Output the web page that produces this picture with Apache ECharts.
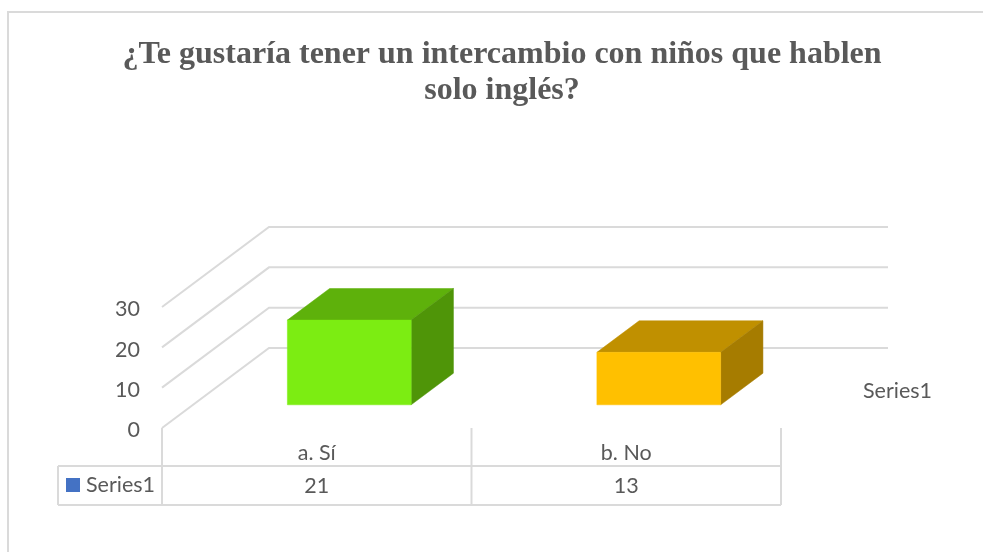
<!DOCTYPE html>
<html>
<head>
<meta charset="utf-8">
<style>html,body{margin:0;padding:0;background:#fff}#c{width:983px;height:552px}</style>
<script src="https://cdn.jsdelivr.net/npm/echarts@6/dist/echarts.min.js"></script>
</head>
<body>
<div id="c"></div>
<script>
const titleText = '¿Te gustaría tener un intercambio con niños que hablen\nsolo inglés?';
const categories = ['a. Sí', 'b. No'];
const seriesName = 'Series1';
const values = [21, 13];
const yTicks = [0, 10, 20, 30];

const FACES = [
  { front: '#7ced12', top: '#5eb10b', side: '#4f9508' },
  { front: '#ffc000', top: '#c09000', side: '#a67c00' }
];
const GRID_COLOR = '#dadada';
const TEXT_COLOR = '#595959';
const LABEL_FONT = 'Lato';
const LABEL_SIZE = 21.5;
const DEPTH_X = 107, DEPTH_Y = -80;
const BAR_NEAR = 0.29, BAR_FAR = 0.685, BAR_WIDTH = 0.4, BAR_SHIFT_X = 1.5;
const TABLE_LEFT = 58, TABLE_TOP = 466, TABLE_BOTTOM = 505;

const lineStyle = { stroke: GRID_COLOR, lineWidth: 2, fill: null };
const pairs = values.map((v, i) => [i, v]);

const chart = echarts.init(document.getElementById('c'), null, { renderer: 'canvas' });
chart.setOption({
  animation: false,
  backgroundColor: '#fff',
  title: {
    text: titleText, left: 497, top: 32, textAlign: 'center',
    textStyle: { fontFamily: 'Liberation Serif', fontWeight: 'bold', fontSize: 32, lineHeight: 36, color: TEXT_COLOR }
  },
  grid: { left: 162, top: 307, width: 619, height: 121 },
  xAxis: {
    type: 'category', data: categories,
    axisLine: { show: false }, axisTick: { show: false }, splitLine: { show: false },
    axisLabel: { margin: 14, fontFamily: LABEL_FONT, fontSize: LABEL_SIZE, color: TEXT_COLOR }
  },
  yAxis: {
    type: 'value', min: 0, max: 30, interval: 10,
    axisLine: { show: false }, axisTick: { show: false }, splitLine: { show: false },
    axisLabel: { margin: 22, verticalAlign: 'top', lineHeight: 5, fontFamily: LABEL_FONT, fontSize: LABEL_SIZE, color: TEXT_COLOR }
  },
  graphic: [
    { type: 'polyline', silent: true, shape: { points: [[8, 552], [8, 12], [983, 12]] }, style: lineStyle },
    { type: 'rect', silent: true, shape: { x: 66, y: 478, width: 14, height: 14 }, style: { fill: '#4472c4' } },
    { type: 'text', silent: true, x: 86, y: 485, style: { text: seriesName, font: LABEL_SIZE + 'px ' + LABEL_FONT, fill: TEXT_COLOR, verticalAlign: 'middle' } },
    { type: 'text', silent: true, x: 863, y: 391, style: { text: seriesName, font: LABEL_SIZE + 'px ' + LABEL_FONT, fill: TEXT_COLOR, verticalAlign: 'middle' } }
  ],
  series: [
    {
      type: 'custom', name: 'gridlines', silent: true, clip: false, z: 1,
      encode: { x: 0, y: 1 },
      data: yTicks.map(t => [0, t]),
      renderItem(params, api) {
        const cs = params.coordSys;
        const y = api.coord([0, api.value(1)])[1];
        return {
          type: 'polyline',
          shape: { points: [[cs.x, y], [cs.x + DEPTH_X, y + DEPTH_Y], [cs.x + cs.width + DEPTH_X, y + DEPTH_Y]] },
          style: lineStyle
        };
      }
    },
    {
      type: 'custom', name: 'table', silent: true, clip: false, z: 1,
      encode: { x: 0, y: 1 },
      data: [[0, 0]],
      renderItem(params, api) {
        const cs = params.coordSys;
        const band = api.size([1, 0])[0];
        const y0 = api.coord([0, 0])[1];
        const line = (x1, y1, x2, y2) => ({ type: 'line', shape: { x1, y1, x2, y2 }, style: lineStyle });
        const children = [
          line(TABLE_LEFT, TABLE_TOP, cs.x + cs.width, TABLE_TOP),
          line(TABLE_LEFT, TABLE_BOTTOM, cs.x + cs.width, TABLE_BOTTOM),
          line(TABLE_LEFT, TABLE_TOP, TABLE_LEFT, TABLE_BOTTOM)
        ];
        for (let i = 0; i <= categories.length; i++) {
          children.push(line(cs.x + band * i, y0, cs.x + band * i, TABLE_BOTTOM));
        }
        return { type: 'group', children };
      }
    },
    {
      type: 'custom', name: seriesName, clip: false, z: 3,
      encode: { x: 0, y: 1 },
      data: pairs,
      renderItem(params, api) {
        const i = api.value(0);
        const top0 = api.coord([i, api.value(1)]);
        const base0 = api.coord([i, 0]);
        const w = api.size([1, 0])[0] * BAR_WIDTH;
        const c = FACES[i];
        const nx = top0[0] - w / 2 + DEPTH_X * BAR_NEAR + BAR_SHIFT_X;
        const ny = DEPTH_Y * BAR_NEAR;
        const fx = DEPTH_X * (BAR_FAR - BAR_NEAR);
        const fy = DEPTH_Y * (BAR_FAR - BAR_NEAR);
        const yT = top0[1] + ny, yB = base0[1] + ny;
        const poly = (points, fill) => ({ type: 'polygon', shape: { points }, style: { fill, stroke: fill, lineWidth: 0.5 } });
        return {
          type: 'group',
          children: [
            poly([[nx, yT], [nx + w, yT], [nx + w + fx, yT + fy], [nx + fx, yT + fy]], c.top),
            poly([[nx + w, yT], [nx + w + fx, yT + fy], [nx + w + fx, yB + fy], [nx + w, yB]], c.side),
            poly([[nx, yT], [nx + w, yT], [nx + w, yB], [nx, yB]], c.front)
          ]
        };
      }
    },
    {
      type: 'custom', name: 'tableValues', silent: true, clip: false, z: 4,
      encode: { x: 0, y: 1 },
      data: pairs,
      renderItem(params, api) {
        const x = api.coord([api.value(0), 0])[0];
        return {
          type: 'text',
          style: {
            x, y: 486, text: String(api.value(1)), align: 'center', verticalAlign: 'middle',
            font: LABEL_SIZE + 'px ' + LABEL_FONT, fill: TEXT_COLOR
          }
        };
      }
    }
  ]
});
</script>
</body>
</html>
